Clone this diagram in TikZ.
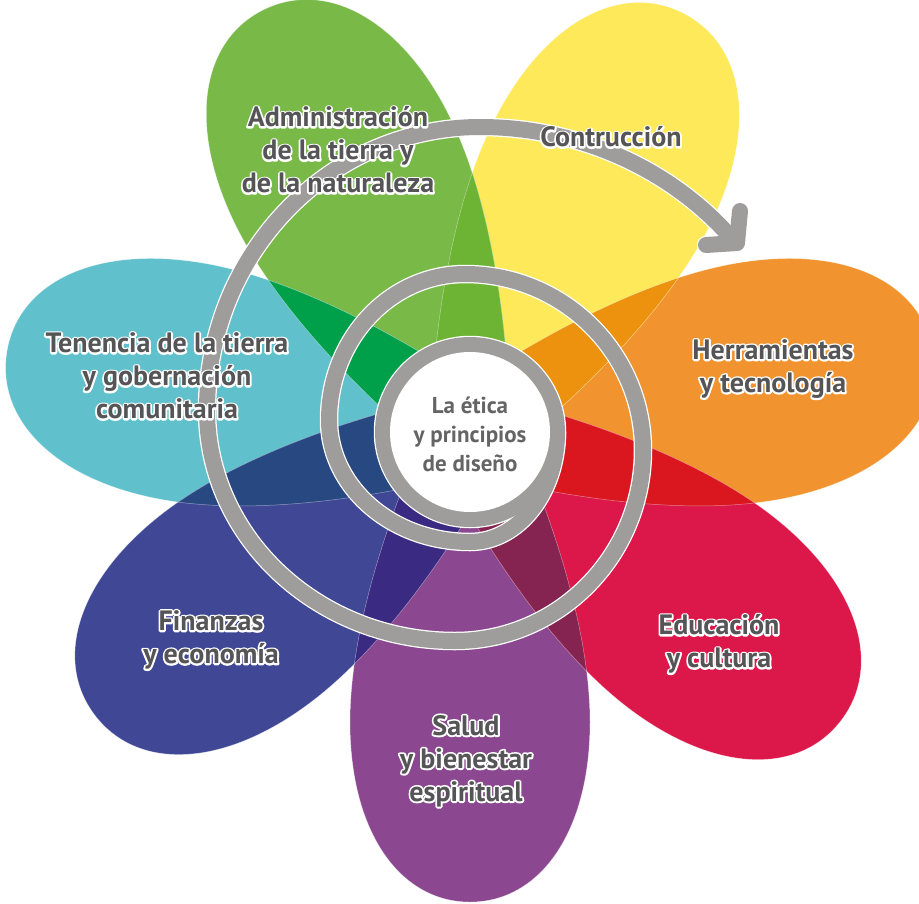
\documentclass[tikz,border=0pt]{standalone}
\usepackage{fontspec}
\newfontfamily\lblfont{PT Sans}
\definecolor{pgreen}{RGB}{120,185,72}
\definecolor{pyellow}{RGB}{253,233,90}
\definecolor{porange}{RGB}{241,148,48}
\definecolor{pred}{RGB}{219,24,73}
\definecolor{ppurple}{RGB}{139,72,145}
\definecolor{pblue}{RGB}{64,72,150}
\definecolor{pcyan}{RGB}{96,192,204}
\definecolor{olime}{RGB}{110,180,52}
\definecolor{odorange}{RGB}{236,146,15}
\definecolor{ored}{RGB}{218,22,30}
\definecolor{omaroon}{RGB}{133,36,80}
\definecolor{oindigo}{RGB}{58,42,130}
\definecolor{onavy}{RGB}{40,72,130}
\definecolor{odgreen}{RGB}{0,160,75}
\definecolor{spgray}{RGB}{158,157,155}
\definecolor{txtgray}{RGB}{85,85,87}
\definecolor{ctrgray}{RGB}{100,100,100}
\newcommand\petal{(-90,0) .. controls (10,55) and (170,120) .. (290,120) .. controls (400,120) and (470,70) .. (470,0) .. controls (470,-70) and (400,-120) .. (290,-120) .. controls (170,-120) and (10,-55) .. (-90,0) -- cycle}
\newcommand\spiralpath{(557,432) arc[start angle=0,end angle=90,x radius=87,y radius=110] arc[start angle=90,end angle=180,x radius=141,y radius=122] arc[start angle=180,end angle=270,x radius=136,y radius=146] arc[start angle=270,end angle=360,x radius=178,y radius=176] arc[start angle=0,end angle=90,x radius=188,y radius=191] arc[start angle=90,end angle=180,x radius=248,y radius=231] arc[start angle=180,end angle=270,x radius=273,y radius=283] arc[start angle=270,end angle=321,x radius=325,y radius=303]}
% white halo: one stroked copy (text render mode 1) under the filled text
\newcommand\ol[1]{\leavevmode\rlap{\special{pdf:literal direct 1 Tr 3.6 w 1 1 1 RG 1 j}#1\special{pdf:literal direct 0 Tr}}#1}
\tikzset{
  lbl/.style={align=center, text=txtgray, font=\lblfont\bfseries\fontsize{28}{33}\selectfont, inner sep=0pt},
  ctr/.style={align=center, text=ctrgray, font=\lblfont\bfseries\fontsize{23}{29}\selectfont, inner sep=0pt},
  edge/.style={white, opacity=0.45, line width=0.5pt},
  bandw/.style={white, line width=18.5pt},
  band/.style={spgray, line width=16pt}
}
\begin{document}
\begin{tikzpicture}[x=1pt,y=-1pt]
\useasboundingbox (0,0) rectangle (919,903);
\fill[white] (0,0) rectangle (919,903);
\begin{scope}[shift={(470,432)}]
  % petals
  \fill[porange,rotate=10] \petal;
  \fill[pyellow,rotate=63] \petal;
  \fill[pgreen,rotate=116] \petal;
  \fill[pcyan,rotate=170] \petal;
  \fill[pblue,rotate=217] \petal;
  \fill[ppurple,rotate=270] \petal;
  \fill[pred,rotate=322] \petal;
  % overlaps
  \begin{scope}\clip[rotate=10] \petal; \fill[odorange,rotate=63] \petal;\end{scope}
  \begin{scope}\clip[rotate=63] \petal; \fill[olime,rotate=116] \petal;\end{scope}
  \begin{scope}\clip[rotate=116] \petal; \fill[odgreen,rotate=170] \petal;\end{scope}
  \begin{scope}\clip[rotate=170] \petal; \fill[onavy,rotate=217] \petal;\end{scope}
  \begin{scope}\clip[rotate=217] \petal; \fill[oindigo,rotate=270] \petal;\end{scope}
  \begin{scope}\clip[rotate=270] \petal; \fill[omaroon,rotate=322] \petal;\end{scope}
  \begin{scope}\clip[rotate=322] \petal; \fill[ored,rotate=10] \petal;\end{scope}
  % faint edges
  \foreach \a in {10,63,116,170,217,270,322} {\draw[edge,rotate=\a] \petal;}
\end{scope}
% spiral
\coordinate (c) at (470,432);
\coordinate (tipA) at (740,211);
\coordinate (tipC) at (737,243);
\coordinate (tipB) at (706,245);
\draw[bandw] (c) circle[radius=87pt];
\draw[bandw] \spiralpath;
\draw[bandw, line cap=round, line join=round] (tipA) -- (tipC) -- (tipB);
\draw[band] (c) circle[radius=87pt];
\draw[band] \spiralpath coordinate (send);
\draw[band] (send) -- (tipC);
\draw[band, line cap=round, line join=round] (tipA) -- (tipC) -- (tipB);
\fill[white] (c) circle[radius=80pt];
% labels
\node[ctr] (ctr) at (470,434) {La ética\\y principios\\de diseño};
\node[lbl] (adm) at (338,150) {\ol{Administración}\\\ol{de la tierra y}\\\ol{de la naturaleza}};
\node[lbl] (con) at (611,137) {\ol{Contrucción}};
\node[lbl] (her) at (773,369) {\ol{Herramientas}\\\ol{y tecnología}};
\node[lbl] (ten) at (167,376) {\ol{Tenencia de la tierra}\\\ol{y gobernación}\\\ol{comunitaria}};
\node[lbl] (fin) at (211,640) {\ol{Finanzas}\\\ol{y economía}};
\node[lbl] (edu) at (719,644) {\ol{Educación}\\\ol{y cultura}};
\node[lbl] (sal) at (466,761) {\ol{Salud}\\\ol{y bienestar}\\\ol{espiritual}};
\end{tikzpicture}
\end{document}
